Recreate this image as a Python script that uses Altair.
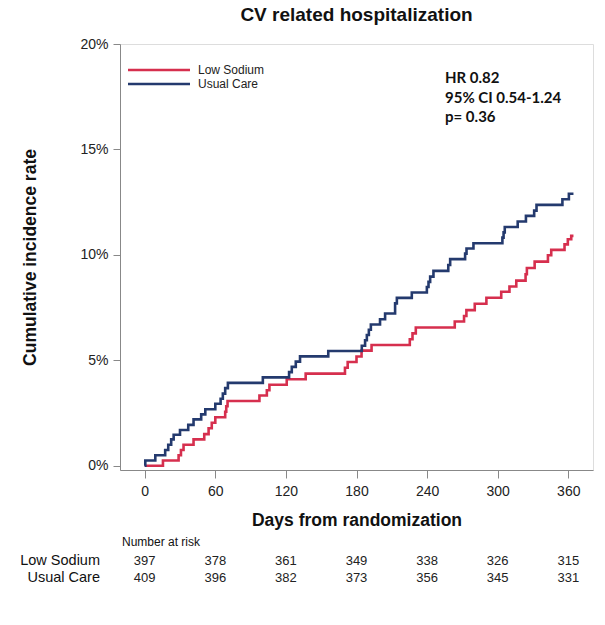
import altair as alt
import pandas as pd

# ---- data ----
groups = ["Low Sodium", "Usual Care"]
colors = ["#d62f4e", "#243a6e"]

low_days = [0, 15.5, 28.8, 30.8, 33, 41.5, 50.6, 54.3, 57, 60, 68.4, 69.3, 70.4,
            97.5, 103.8, 106, 120.7, 136.8, 170.2, 172.5, 180, 184.3, 192.8,
            225.3, 227.6, 230.4, 263.5, 271.4, 273.4, 280.5, 290.4, 303, 310,
            315.8, 323.7, 324.8, 331.4, 342.7, 345.5, 356.8, 359.6, 362.5, 364.4]
low_pct = [0, 0.25, 0.5, 0.75, 1.0, 1.25, 1.5, 1.78, 2.04, 2.3, 2.56, 2.82, 3.07,
           3.33, 3.58, 3.84, 4.1, 4.37, 4.65, 4.92, 5.18, 5.46, 5.73,
           6.0, 6.28, 6.56, 6.84, 7.1, 7.38, 7.68, 7.97, 8.25, 8.5,
           8.78, 9.08, 9.38, 9.68, 9.98, 10.24, 10.5, 10.74, 10.9, 10.9]

uc_days = [0, 0.5, 9, 17.4, 20, 22.5, 24.6, 30, 37, 41.5, 48, 51.5, 60, 64.5, 66.4,
           68.4, 70.7, 100.4, 122.7, 125, 128.4, 132, 156, 184.5, 187.3, 188.8,
           190.5, 192.2, 200, 204.3, 212.8, 214.3, 227, 239.8, 241.2, 242.6, 245.4,
           258, 259.6, 272.3, 273.5, 279.4, 304, 305, 306, 317, 324, 331, 333,
           355, 360.5, 364.4]
uc_pct = [0, 0.25, 0.5, 0.75, 1.0, 1.25, 1.47, 1.7, 1.94, 2.2, 2.44, 2.68, 2.94, 3.18, 3.42,
          3.68, 3.93, 4.19, 4.44, 4.69, 4.94, 5.19, 5.44, 5.69, 5.95, 6.2,
          6.45, 6.7, 6.95, 7.22, 7.7, 7.96, 8.22, 8.48, 8.72, 8.97, 9.24,
          9.52, 9.8, 10.06, 10.3, 10.55, 10.82, 11.07, 11.32, 11.58, 11.85, 12.1, 12.37,
          12.64, 12.9, 12.9]

tick_days = [0, 60, 120, 180, 240, 300, 360]
y_ticks = [0, 5, 10, 15, 20]
risk_low = [397, 378, 361, 349, 338, 326, 315]
risk_uc = [409, 396, 382, 373, 356, 345, 331]
stats_lines = ["HR 0.82", "95% CI 0.54-1.24", "p= 0.36"]

# ---- layout ----
W, H = 473, 426
FONT = "Liberation Sans"

curve_df = pd.concat([
    pd.DataFrame({"day": low_days, "pct": low_pct, "group": groups[0]}),
    pd.DataFrame({"day": uc_days, "pct": uc_pct, "group": groups[1]}),
])

x_scale = alt.Scale(domain=[-21, 381], nice=False, zero=False)
y_scale = alt.Scale(domain=[-0.2, 20], nice=False, zero=False)
color_scale = alt.Scale(domain=groups, range=colors)

curves = alt.Chart(curve_df).mark_line(
    interpolate="step-after", strokeWidth=2.6, clip=False
).encode(
    x=alt.X("day:Q", scale=x_scale,
            axis=alt.Axis(values=tick_days, title="Days from randomization",
                          labelFontSize=14, labelColor="#222", labelFont=FONT,
                          tickSize=8, labelPadding=6, labelFlush=False,
                          titleFontSize=17.5, titleFont=FONT, titleFontWeight="bold",
                          titleColor="#111", titlePadding=13, grid=False)),
    y=alt.Y("pct:Q", scale=y_scale,
            axis=alt.Axis(values=y_ticks, labelExpr="datum.value + '%'",
                          title="Cumulative incidence rate",
                          labelFontSize=14, labelColor="#222", labelFont=FONT,
                          tickSize=7, labelPadding=5, labelFlush=False,
                          titleFontSize=17.5, titleFont=FONT, titleFontWeight="bold",
                          titleColor="#111", titlePadding=40, grid=False)),
    color=alt.Color("group:N", scale=color_scale, legend=None),
    order=alt.Order("day:Q"),
)

layers = [curves]

# manual legend
for i, g in enumerate(groups):
    ly = 26 + 14 * i
    layers.append(
        alt.Chart(pd.DataFrame({"group": [g]})).mark_rule(strokeWidth=2.6).encode(
            x=alt.value(8), x2=alt.value(70), y=alt.value(ly),
            color=alt.Color("group:N", scale=color_scale, legend=None),
        )
    )
    layers.append(
        alt.Chart(pd.DataFrame({"group": [g]})).mark_text(
            align="left", baseline="middle", fontSize=12, font=FONT, color="#222"
        ).encode(x=alt.value(78), y=alt.value(ly), text="group:N")
    )

# HR annotation
for i, s in enumerate(stats_lines):
    layers.append(
        alt.Chart(pd.DataFrame({"t": [s]})).mark_text(
            align="left", baseline="middle", fontSize=15, font="Lato",
            fontWeight="bold", color="#111"
        ).encode(x=alt.value(325), y=alt.value(34 + 19.5 * i), text="t:N")
    )

# number at risk table
layers.append(
    alt.Chart(pd.DataFrame({"t": ["Number at risk"]})).mark_text(
        align="left", baseline="middle", fontSize=12, font=FONT, color="#111"
    ).encode(x=alt.value(2), y=alt.value(H + 72), text="t:N")
)
for i, (g, vals) in enumerate(zip(groups, [risk_low, risk_uc])):
    ry = H + 91 + 17 * i
    layers.append(
        alt.Chart(pd.DataFrame({"t": [g]})).mark_text(
            align="right", baseline="middle", fontSize=14.5, font=FONT, color="#111"
        ).encode(x=alt.value(-20), y=alt.value(ry), text="t:N")
    )
    layers.append(
        alt.Chart(pd.DataFrame({"day": tick_days, "n": vals})).mark_text(
            align="center", baseline="middle", fontSize=13, font=FONT, color="#222"
        ).encode(x=alt.X("day:Q", scale=x_scale), y=alt.value(ry), text="n:Q")
    )

chart = alt.layer(*layers).properties(
    width=W, height=H,
    title=alt.TitleParams("CV related hospitalization", fontSize=19, font=FONT,
                          fontWeight="bold", color="#111", anchor="middle", offset=12),
    autosize=alt.AutoSizeParams(type="none"),
    padding={"left": 120, "top": 44, "right": 12, "bottom": 155},
).configure_view(strokeWidth=0).configure_axis(
    domainColor="#b3b3b3", domainWidth=2, tickColor="#b3b3b3", tickWidth=1.5
).configure(background="white")

chart.save("out.html", embed_options={"renderer": "svg", "actions": False})
